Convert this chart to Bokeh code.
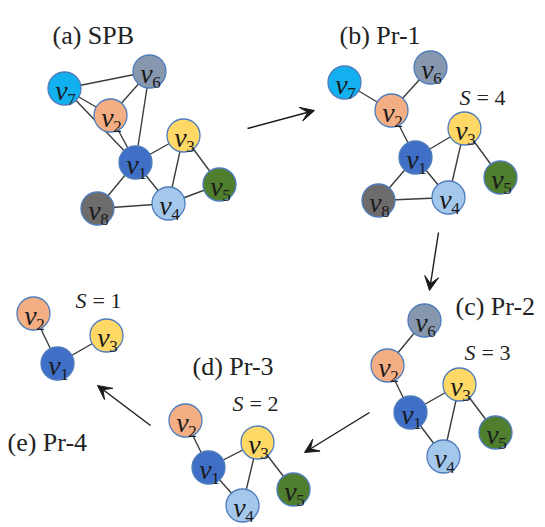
from bokeh.plotting import figure
from bokeh.models import Range1d, Arrow, VeeHead, ColumnDataSource
from bokeh.core.properties import value
from bokeh.embed import file_html
from bokeh.resources import INLINE

# Vertex fill colours
node_colors = {
    "1": "#3F6FC6", "2": "#F4AE84", "3": "#FFD865", "4": "#A4C8EC",
    "5": "#4E7E2E", "6": "#8697AE", "7": "#12B0EE", "8": "#6E6B6B",
}

# Layout of each stage (canvas units, y grows downward)
panel_a_nodes = {"1": (135, 162), "2": (110, 115), "3": (183, 135), "4": (168, 203),
                 "5": (219, 184), "6": (149, 71), "7": (64, 88), "8": (97, 208)}
panel_a_edges = [("7", "6"), ("7", "2"), ("7", "1"), ("6", "2"), ("6", "1"), ("2", "1"),
                 ("1", "3"), ("1", "8"), ("1", "4"), ("3", "4"), ("3", "5"), ("4", "5"),
                 ("8", "4")]

panel_b_nodes = {"1": (415, 157), "2": (391, 110), "3": (464, 128), "4": (448, 197),
                 "5": (500, 177), "6": (430, 67), "7": (344, 82), "8": (378, 200)}
panel_b_edges = [("7", "2"), ("6", "2"), ("2", "1"), ("1", "3"), ("1", "8"), ("1", "4"),
                 ("3", "4"), ("3", "5"), ("8", "4")]

panel_c_nodes = {"1": (410, 412), "2": (387, 365), "3": (459, 384), "4": (443, 456),
                 "5": (495, 432), "6": (424, 320)}
panel_c_edges = [("6", "2"), ("2", "1"), ("1", "3"), ("1", "4"), ("3", "4"), ("3", "5")]

panel_d_nodes = {"1": (208, 467), "2": (185, 420), "3": (257, 442), "4": (242, 505),
                 "5": (293, 489)}
panel_d_edges = [("2", "1"), ("1", "3"), ("1", "4"), ("3", "4"), ("3", "5")]

panel_e_nodes = {"1": (57, 363), "2": (33, 313), "3": (106, 335)}
panel_e_edges = [("2", "1"), ("1", "3")]

panels = [
    (panel_a_nodes, panel_a_edges),
    (panel_b_nodes, panel_b_edges),
    (panel_c_nodes, panel_c_edges),
    (panel_d_nodes, panel_d_edges),
    (panel_e_nodes, panel_e_edges),
]

titles = ["(a) SPB", "(b) Pr-1", "(c) Pr-2", "(d) Pr-3", "(e) Pr-4"]
title_x = [52, 339, 455, 192, 7]
title_y = [35, 35, 306, 366, 442]

s_values = ["4", "3", "2", "1"]
s_x = [459, 464, 232, 75]
s_y = [97, 352, 403, 300]

arrow_start = [(247, 128), (438, 232), (369, 412), (150, 425)]
arrow_end = [(314, 110), (429, 290), (304, 452), (97, 385)]

W, H = 545, 527
p = figure(width=W, height=H, output_backend="svg", toolbar_location=None,
           x_range=Range1d(0, W), y_range=Range1d(H, 0),
           x_axis_location=None, y_axis_location=None,
           min_border=0, outline_line_color=None)
p.grid.visible = False
p.background_fill_color = "white"
p.border_fill_color = "white"

SERIF = value("Liberation Serif")

# Edges
xs, ys = [], []
for nodes, edges in panels:
    for a, b in edges:
        xs.append([nodes[a][0], nodes[b][0]])
        ys.append([nodes[a][1], nodes[b][1]])
p.multi_line(xs=xs, ys=ys, line_color="#3C3C3C", line_width=1.4)

# Vertices
nx, ny, nc, nid = [], [], [], []
for nodes, _ in panels:
    for k, (x, y) in nodes.items():
        nx.append(x); ny.append(y); nc.append(node_colors[k]); nid.append(k)
src = ColumnDataSource(dict(x=nx, y=ny, c=nc, k=nid,
                            vx=[x - 3 for x in nx], vy=[y + 2 for y in ny],
                            dx=[x + 7 for x in nx], dy=[y + 11 for y in ny],
                            v=["v"] * len(nx)))
p.circle(x="x", y="y", radius=16.5, fill_color="c", line_color="#4F7CBB",
         line_width=1.3, source=src)
p.text(x="vx", y="vy", text="v", source=src, text_font=SERIF, text_font_style="italic",
       text_font_size="28px", text_align="center", text_baseline="alphabetic",
       text_color="#1A1A1A")
p.text(x="dx", y="dy", text="k", source=src, text_font=SERIF,
       text_font_size="17px", text_align="center", text_baseline="alphabetic",
       text_color="#1A1A1A")

# Panel titles
p.text(x=title_x, y=title_y, text=titles, text_font=SERIF, text_font_size="26px",
       text_align="left", text_baseline="alphabetic", text_color="#222222")

# S = n annotations
p.text(x=s_x, y=s_y, text=["S"] * len(s_x), text_font=SERIF, text_font_style="italic",
       text_font_size="22px", text_align="left", text_baseline="alphabetic",
       text_color="#222222")
p.text(x=[x + 17 for x in s_x], y=s_y, text=["= " + s for s in s_values], text_font=SERIF,
       text_font_size="22px", text_align="left", text_baseline="alphabetic",
       text_color="#222222")

# Transition arrows
for (x0, y0), (x1, y1) in zip(arrow_start, arrow_end):
    p.add_layout(Arrow(x_start=x0, y_start=y0, x_end=x1, y_end=y1,
                       line_color="#1A1A1A", line_width=1.4,
                       end=VeeHead(size=14, fill_color="#1A1A1A",
                                   line_color="#1A1A1A", line_width=1)))

open("out.html", "w").write(file_html(p, INLINE))
